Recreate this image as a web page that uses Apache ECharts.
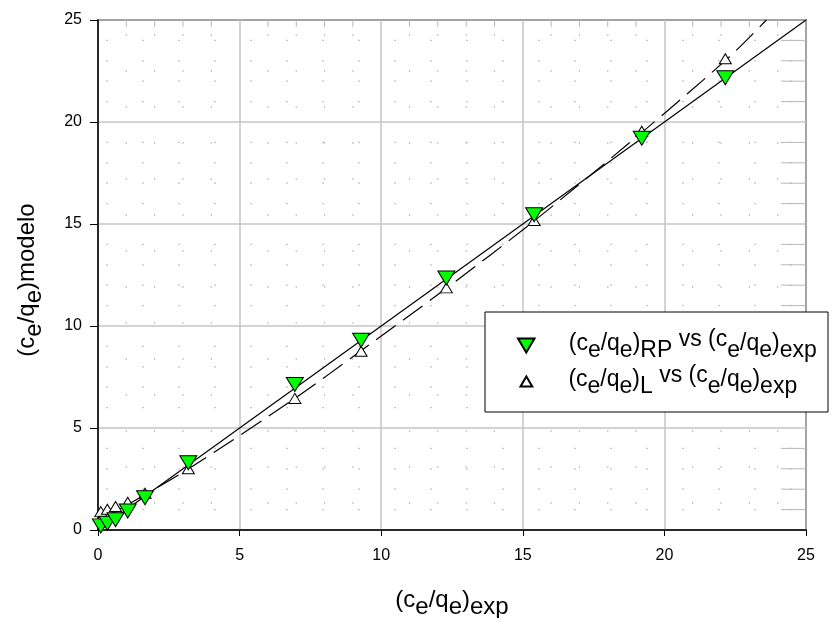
<!DOCTYPE html>
<html>
<head>
<meta charset="utf-8">
<script src="https://cdn.jsdelivr.net/npm/echarts@6/dist/echarts.min.js"></script>
<style>
html,body{margin:0;padding:0;background:#fff;}
#chart{width:838px;height:618px;}
</style>
</head>
<body>
<div id="chart"></div>
<script>
// Data
const expX   = [0.1, 0.33, 0.62, 1.05, 1.66, 3.19, 6.95, 9.29, 12.3, 15.4, 19.2, 22.15];
const rpY    = [0.2, 0.33, 0.5, 0.93, 1.58, 3.3, 7.13, 9.3, 12.35, 15.45, 19.2, 22.17];
const lY     = [0.9, 1.02, 1.15, 1.36, 1.8, 3.0, 6.45, 8.76, 11.87, 15.17, 19.55, 23.1];
// Fitted lines
const fitRPx = [0.1, 25];
const fitRPy = [0.1, 25];
const fitLx  = [0.1, 1, 3.2, 7, 9.3, 12.3, 15.4, 19.3, 22.3, 23.6];
const fitLy  = [0.45, 1.2, 3.0, 6.5, 8.8, 11.85, 15.15, 19.6, 23.2, 25];
const xTicks = [0, 5, 10, 15, 20, 25];
const yTicks = [0, 5, 10, 15, 20, 25];

const FONT = 'Liberation Sans';
function makeRich(size, subOff, supOff) {
  const lh = size + 1;
  return {
    n:  {fontSize: size, fontFamily: FONT, color: '#000', lineHeight: lh, padding: [supOff,0,0,0], verticalAlign: 'top'},
    s:  {fontSize: size, fontFamily: FONT, color: '#000', lineHeight: lh, padding: [supOff + subOff,0,0,0], verticalAlign: 'top'},
    u:  {fontSize: size, fontFamily: FONT, color: '#000', lineHeight: lh, padding: [0,0,0,0], verticalAlign: 'top'},
    sp1:{width: 29},
    sp2:{width: 31}
  };
}
const richName = makeRich(24, 7, 3);
const richLeg = makeRich(23, 7, 4);
const nameRP = 'RP';
const nameL = 'L';
const triDown = 'path://M0,0L20,0L10,17Z';
const triUp = 'path://M10,0L20,17L0,17Z';

const pairs = (xs, ys) => xs.map((x, i) => [x, ys[i]]);
// minor tick values (1 unit steps between major ticks)
function minorValues(ticks) {
  const out = [];
  for (let i = 0; i < ticks.length - 1; i++) {
    const step = (ticks[i+1] - ticks[i]) / 5;
    for (let k = 1; k < 5; k++) out.push(ticks[i] + k * step);
  }
  return out;
}
const xMinor = minorValues(xTicks);
const yMinor = minorValues(yTicks);
const xMin = xTicks[0], xMax = xTicks[xTicks.length-1];
const yMin = yTicks[0], yMax = yTicks[yTicks.length-1];

const chart = echarts.init(document.getElementById('chart'), null, {renderer: 'canvas'});
const gray = '#c4c4c4';
const dotColor = '#c4c4c4';
chart.setOption({
  animation: false,
  textStyle: {fontFamily: FONT},
  grid: {left: 98, top: 20, width: 708, height: 510, outerBoundsMode: 'none', containLabel: false,
         show: true, borderColor: '#000', borderWidth: 1.5, backgroundColor: 'transparent'},
  graphic: [{
    type: 'rect', z: 5,
    shape: {x: 485, y: 312, width: 343, height: 100},
    style: {fill: '#fff', stroke: '#000', lineWidth: 1}
  }],
  legend: [{
    z: 10, orient: 'vertical', left: 517, top: 328.5, padding: 0,
    itemWidth: 17, itemHeight: 14, data: [nameRP],
    formatter: () => '{sp1| }{n|(c}{s|e}{n|/q}{s|e}{n|)}{s|RP}{u| vs (c}{s|e}{n|/q}{s|e}{n|)}{s|exp}',
    textStyle: {rich: richLeg, fontSize: 23, padding: [0,0,10,0]}
  }, {
    z: 10, orient: 'vertical', left: 519.5, top: 364.5, padding: 0,
    itemWidth: 12, itemHeight: 10, data: [nameL],
    formatter: () => '{sp2| }{n|(c}{s|e}{n|/q}{s|e}{n|)}{s|L}{u| vs (c}{s|e}{n|/q}{s|e}{n|)}{s|exp}',
    textStyle: {rich: richLeg, fontSize: 23, padding: [0,0,10,0]}
  }],
  xAxis: [{
    type: 'value', min: xMin, max: xMax, interval: 5,
    position: 'bottom',
    name: '{n|(c}{s|e}{n|/q}{s|e}{n|)}{s|exp}',
    nameLocation: 'middle', nameGap: 55,
    nameTextStyle: {rich: richName},
    axisLine: {show: true, lineStyle: {color: '#000', width: 1.5}},
    axisTick: {show: true, inside: false, length: 6, lineStyle: {color: '#000', width: 1}},
    axisLabel: {fontSize: 16, color: '#000', margin: 18, fontFamily: FONT},
    splitLine: {show: true, lineStyle: {color: gray, width: 1.5}},
    minorTick: {show: false},
    minorSplitLine: {show: false}
  }],
  yAxis: [{
    type: 'value', min: yMin, max: yMax, interval: 5,
    position: 'left',
    name: '{n|(c}{s|e}{n|/q}{s|e}{n|)modelo}',
    nameLocation: 'middle', nameGap: 61, nameRotate: 90,
    nameTextStyle: {rich: richName, padding: [0,10,0,0]},
    axisLine: {show: true, lineStyle: {color: '#000', width: 1.5}},
    axisTick: {show: true, inside: false, length: 8, lineStyle: {color: '#000', width: 1}},
    axisLabel: {fontSize: 16, color: '#000', margin: 16, fontFamily: FONT},
    splitLine: {show: true, lineStyle: {color: gray, width: 1.5}},
    minorTick: {show: false},
    minorSplitLine: {show: false}
  }],
  series: [{
    name: 'minorGridH', type: 'custom', silent: true, z: 0,
    data: yMinor.map(v => [xMin, v]),
    renderItem: (params, api) => {
      const a = api.coord([xMin, api.value(1)]);
      const b = api.coord([xMax, api.value(1)]);
      return {type: 'line', shape: {x1: a[0], y1: a[1], x2: b[0], y2: b[1]},
              style: {stroke: dotColor, lineWidth: 1.2, lineDash: [2, 34], lineDashOffset: -8}};
    }
  }, {
    name: 'minorGridV', type: 'custom', silent: true, z: 0,
    data: xMinor.map(v => [v, yMin]),
    renderItem: (params, api) => {
      const a = api.coord([api.value(0), yMax]);
      const b = api.coord([api.value(0), yMin]);
      return {type: 'line', shape: {x1: a[0], y1: a[1], x2: b[0], y2: b[1]},
              style: {stroke: dotColor, lineWidth: 1.2, lineDash: [2, 34], lineDashOffset: -14}};
    }
  }, {
    name: 'rightMinorTicks', type: 'custom', silent: true, z: 1,
    data: yMinor.map(v => [xMax, v]),
    renderItem: (params, api) => {
      const p = api.coord([api.value(0), api.value(1)]);
      return {type: 'line', shape: {x1: p[0] - 25, y1: p[1], x2: p[0], y2: p[1]},
              style: {stroke: '#b8b8b8', lineWidth: 1}};
    }
  }, {
    name: 'topMinorTicks', type: 'custom', silent: true, z: 1,
    data: xMinor.map(v => [v, yMax]),
    renderItem: (params, api) => {
      const p = api.coord([api.value(0), api.value(1)]);
      return {type: 'line', shape: {x1: p[0], y1: p[1], x2: p[0], y2: p[1] + 7},
              style: {stroke: '#b8b8b8', lineWidth: 1}};
    }
  }, {
    name: 'fitRP', type: 'line', data: pairs(fitRPx, fitRPy),
    showSymbol: false, symbol: 'none', silent: true, z: 2,
    lineStyle: {color: '#000', width: 1.2}
  }, {
    name: 'fitL', type: 'line', data: pairs(fitLx, fitLy), smooth: 0.3,
    showSymbol: false, symbol: 'none', silent: true, z: 2,
    lineStyle: {color: '#000', width: 1.2, type: [24, 9]}
  }, {
    name: nameL, type: 'scatter', data: pairs(expX, lY), z: 3,
    symbol: triUp, symbolSize: [12, 10], symbolKeepAspect: false,
    itemStyle: {color: '#fff', borderColor: '#000', borderWidth: 1, opacity: 1}
  }, {
    name: nameRP, type: 'scatter', data: pairs(expX, rpY), z: 4,
    symbol: triDown, symbolSize: [17, 14], symbolKeepAspect: false,
    itemStyle: {color: '#00ff00', borderColor: '#000', borderWidth: 1, opacity: 1}
  }]
});
</script>
</body>
</html>
